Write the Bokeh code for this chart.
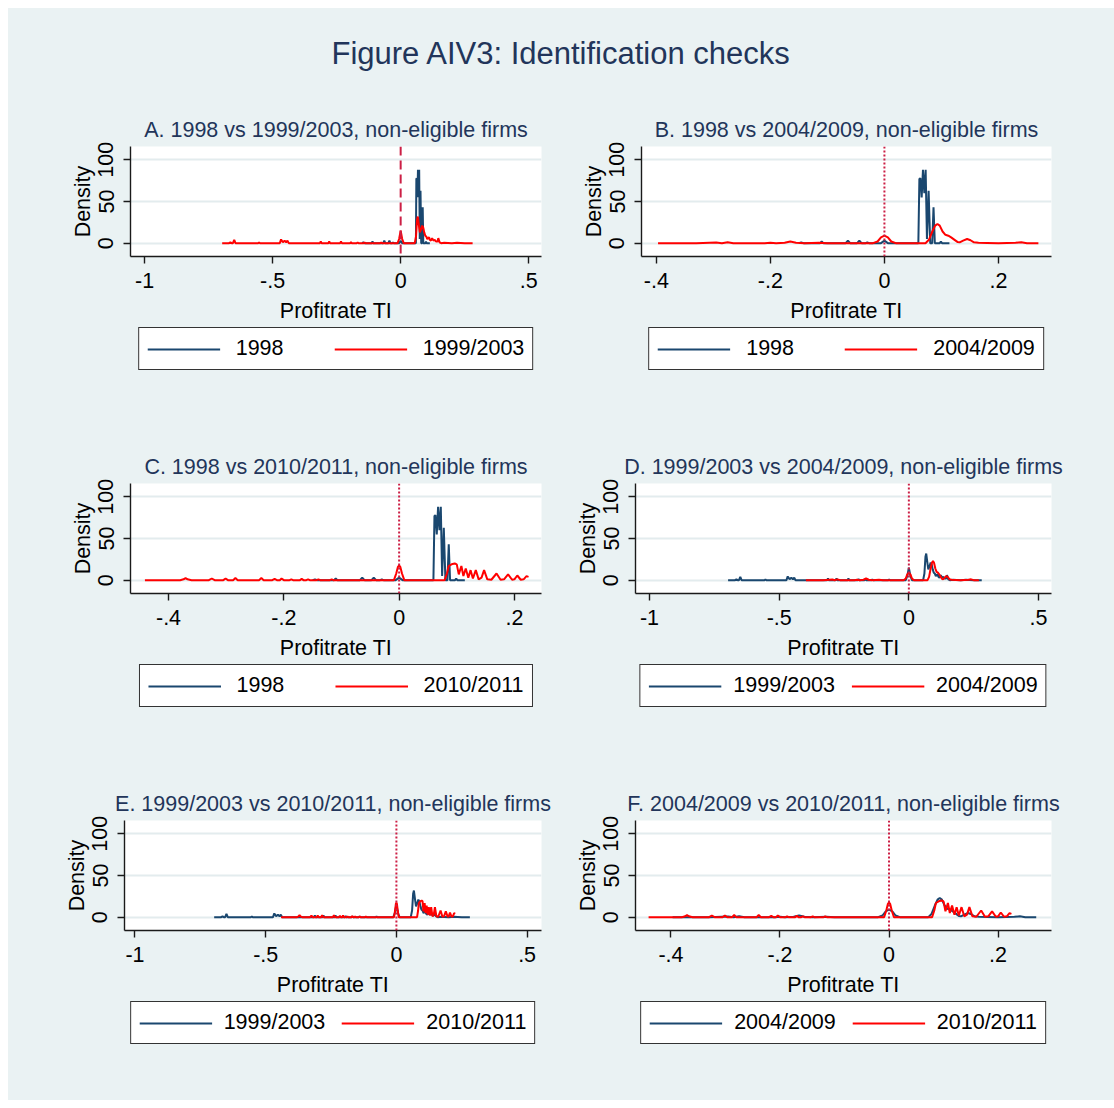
from bokeh.plotting import figure
from bokeh.layouts import column, row
from bokeh.models import (Range1d, FixedTicker, Span, Legend, LegendItem)
from bokeh.core.properties import value
from bokeh.embed import file_html
from bokeh.resources import INLINE

# ---------------- data ----------------
main_title = "Figure AIV3: Identification checks"
x_label = "Profitrate TI"
y_label = "Density"

# Kernel density curves: (profit rate, density)
s1998 = [(-0.150, 0), (-0.146, 1), (-0.142, 0), (-0.113, 0), (-0.110, 2), (-0.107, 0),
         (-0.068, 0), (-0.064, 3), (-0.060, 0), (-0.048, 0), (-0.044, 3), (-0.040, 0),
         (-0.033, 0), (-0.030, 1), (-0.027, 0), (-0.006, 0), (0.000, 3), (0.006, 0),
         (0.0595, 0), (0.0613, 77), (0.063, 78), (0.0653, 55), (0.0676, 88), (0.070, 60),
         (0.0723, 88), (0.0746, 5), (0.0775, 63), (0.0803, 0), (0.0838, 0), (0.0861, 43),
         (0.0884, 0), (0.097, 0), (0.099, 2), (0.101, 0), (0.114, 0)]

s1999_2003 = [(-0.697, 0), (-0.670, 0), (-0.665, 1), (-0.660, 0), (-0.655, 0), (-0.650, 4),
              (-0.645, 0), (-0.600, 0), (-0.556, 0), (-0.553, 1), (-0.550, 0), (-0.500, 0),
              (-0.472, 0), (-0.467, 4.5), (-0.460, 1), (-0.453, 3), (-0.447, 1), (-0.442, 3),
              (-0.437, 0), (-0.400, 0), (-0.315, 0), (-0.312, 2), (-0.309, 0), (-0.282, 0),
              (-0.279, 2), (-0.276, 0), (-0.236, 0), (-0.233, 2), (-0.230, 0), (-0.197, 0),
              (-0.194, 1.5), (-0.191, 0), (-0.171, 0), (-0.168, 1), (-0.165, 0), (-0.144, 0),
              (-0.141, 1), (-0.138, 0), (-0.079, 0), (-0.076, 1), (-0.073, 0), (-0.012, 0),
              (-0.006, 5), (0.000, 15), (0.006, 5), (0.012, 0), (0.055, 0), (0.060, 8),
              (0.064, 28), (0.067, 32), (0.071, 22), (0.075, 13), (0.079, 16), (0.084, 21),
              (0.088, 19), (0.092, 13), (0.096, 9), (0.100, 8), (0.104, 5), (0.107, 6),
              (0.111, 7), (0.114, 4), (0.118, 3), (0.123, 6), (0.128, 3), (0.133, 4),
              (0.138, 2), (0.144, 2), (0.147, 6), (0.152, 1), (0.158, 0), (0.170, 0.5),
              (0.200, 0), (0.220, 0.5), (0.250, 0), (0.281, 0)]

s2004_2009 = [(-0.397, 0), (-0.330, 0), (-0.295, 0.8), (-0.285, 0), (-0.275, 1), (-0.265, 0),
              (-0.210, 0), (-0.200, 0.6), (-0.190, 0), (-0.175, 0.5), (-0.165, 2), (-0.155, 0.5),
              (-0.140, 0), (-0.115, 0.5), (-0.100, 0), (-0.020, 0), (-0.012, 2), (-0.006, 7),
              (0.000, 9), (0.006, 7), (0.012, 2), (0.020, 0), (0.072, 0), (0.078, 4),
              (0.084, 14), (0.089, 21), (0.093, 23), (0.097, 21), (0.102, 14), (0.107, 10),
              (0.112, 9), (0.117, 7), (0.123, 4), (0.128, 1.5), (0.132, 1), (0.138, 3),
              (0.145, 5), (0.151, 3.5), (0.157, 1), (0.165, 0.5), (0.180, 0.3), (0.200, 0),
              (0.230, 0.5), (0.240, 1), (0.250, 0), (0.270, 0)]

s2010_2011 = [(-0.441, 0), (-0.380, 0), (-0.374, 1), (-0.3705, 2.5), (-0.367, 1), (-0.360, 0),
              (-0.330, 0), (-0.325, 2), (-0.320, 0), (-0.305, 0), (-0.301, 2), (-0.297, 0),
              (-0.288, 0), (-0.284, 2.5), (-0.280, 0), (-0.243, 0), (-0.239, 2.5), (-0.235, 0),
              (-0.220, 0), (-0.216, 1.5), (-0.212, 0), (-0.207, 0), (-0.204, 2), (-0.200, 0),
              (-0.190, 0), (-0.187, 1), (-0.184, 0), (-0.172, 0), (-0.169, 1.5), (-0.166, 0),
              (-0.161, 0), (-0.158, 1), (-0.155, 0), (-0.143, 0), (-0.140, 1), (-0.137, 0),
              (-0.120, 0), (-0.117, 1), (-0.114, 0), (-0.009, 0), (-0.005, 8), (-0.002, 16),
              (0.000, 17.6), (0.002, 16), (0.005, 8), (0.009, 0), (0.079, 0), (0.083, 8),
              (0.086, 17), (0.091, 19), (0.0965, 20), (0.100, 19), (0.1035, 7), (0.108, 17),
              (0.1115, 5), (0.1156, 14), (0.120, 3), (0.124, 12), (0.128, 2), (0.133, 12),
              (0.138, 1), (0.143, 3), (0.1474, 12), (0.153, 1), (0.160, 0.5), (0.169, 8),
              (0.176, 0.5), (0.182, 1), (0.189, 7), (0.196, 0.5), (0.200, 1), (0.205, 5.6),
              (0.211, 0.5), (0.216, 1), (0.221, 4.8), (0.2245, 4)]

series = {"1998": s1998, "1999/2003": s1999_2003, "2004/2009": s2004_2009, "2010/2011": s2010_2011}

y_ticks = [0, 50, 100]
y_range = (-16, 116)
ticks_wide = [-1, -0.5, 0, 0.5]
labels_wide = ["-1", "-.5", "0", ".5"]
ticks_narrow = [-0.4, -0.2, 0, 0.2]
labels_narrow = ["-.4", "-.2", "0", ".2"]
ref_line_x = 0

panels = [
    ("A. 1998 vs 1999/2003, non-eligible firms", "1998", "1999/2003", "wide", (-1.055, 0.55), "dashed"),
    ("B. 1998 vs 2004/2009, non-eligible firms", "1998", "2004/2009", "narrow", (-0.426, 0.293), "dotted"),
    ("C. 1998 vs 2010/2011, non-eligible firms", "1998", "2010/2011", "narrow", (-0.466, 0.247), "dotted"),
    ("D. 1999/2003 vs 2004/2009, non-eligible firms", "1999/2003", "2004/2009", "wide", (-1.054, 0.55), "dotted"),
    ("E. 1999/2003 vs 2010/2011, non-eligible firms", "1999/2003", "2010/2011", "wide", (-1.04, 0.555), "dotted"),
    ("F. 2004/2009 vs 2010/2011, non-eligible firms", "2004/2009", "2010/2011", "narrow", (-0.465, 0.298), "dotted"),
]

# ---------------- styling ----------------
BG = "#EAF2F3"
NAVY = "#1A476F"
RED = "#FF0000"
TITLE_C = "#22355A"
REFLINE_C = "#CC1F45"
FONT = "Liberation Sans"
FS = "21.5px"

# per-panel frame geometry (left border, frame width, right border, legend strip height)
geom = [(122, 411, 20, 108), (80, 410, 63, 108),
        (122, 411, 20, 108), (74, 416, 63, 108),
        (116, 417, 20, 99), (74, 416, 63, 99)]
TOP = 48
FRAME_H = 110
BOTTOM = 71


def make_panel(spec, g):
    title, na, nb, kind, xr, dash = spec
    left, fw, right, leg_h = g
    p = figure(frame_width=fw, frame_height=FRAME_H, output_backend="svg", toolbar_location=None,
               x_range=Range1d(*xr), y_range=Range1d(*y_range),
               min_border_left=left, min_border_right=right, min_border_top=TOP,
               min_border_bottom=BOTTOM)
    p.background_fill_color = "white"
    p.border_fill_color = BG
    p.outline_line_color = None

    p.title.text = title
    p.title.align = "center"
    p.title.text_font = FONT
    p.title.text_font_size = FS
    p.title.text_font_style = "normal"
    p.title.text_color = TITLE_C
    p.title.standoff = 9

    sa = series[na]
    sb = series[nb]
    xa, ya = [v[0] for v in sa], [v[1] for v in sa]
    xb, yb = [v[0] for v in sb], [v[1] for v in sb]
    p.line(xa, ya, line_color=NAVY, line_width=2)
    p.line(xb, yb, line_color=RED, line_width=2)

    p.add_layout(Span(location=ref_line_x, dimension="height", line_color=REFLINE_C,
                      line_width=2, line_dash=("9 5" if dash == "dashed" else "2 2")))

    ticks = ticks_wide if kind == "wide" else ticks_narrow
    labels = labels_wide if kind == "wide" else labels_narrow
    p.xaxis.ticker = FixedTicker(ticks=ticks)
    p.xaxis.major_label_overrides = {t: l for t, l in zip(ticks, labels)}
    p.yaxis.ticker = FixedTicker(ticks=y_ticks)
    p.yaxis.major_label_orientation = "vertical"

    for ax in (p.xaxis[0], p.yaxis[0]):
        ax.axis_line_color = "#1a1a1a"
        ax.axis_line_width = 1.4
        ax.major_tick_line_color = "#1a1a1a"
        ax.major_tick_line_width = 1.4
        ax.major_tick_in = 0
        ax.major_tick_out = 7
        ax.minor_tick_line_color = None
        ax.major_label_text_font = FONT
        ax.major_label_text_font_size = FS
        ax.major_label_text_color = "black"
        ax.axis_label_text_font = FONT
        ax.axis_label_text_font_size = FS
        ax.axis_label_text_font_style = "normal"
        ax.axis_label_text_color = "black"
    p.xaxis.axis_label = x_label
    p.xaxis.major_label_standoff = 9
    p.xaxis.axis_label_standoff = 8
    p.yaxis.axis_label = y_label
    p.yaxis.major_label_standoff = 10
    p.yaxis.axis_label_standoff = 1

    p.xgrid.grid_line_color = None
    p.ygrid.grid_line_color = "#E3ECEE"
    p.ygrid.grid_line_width = 2

    # legend strip below the plot (same frame alignment); its key lines sit outside its y range
    lf = figure(frame_width=fw, frame_height=leg_h, output_backend="svg", toolbar_location=None,
                x_range=Range1d(0, 1), y_range=Range1d(-20, -10),
                min_border_left=left, min_border_right=right, min_border_top=0, min_border_bottom=0)
    lf.axis.visible = False
    lf.grid.visible = False
    lf.outline_line_color = None
    lf.background_fill_color = BG
    lf.border_fill_color = BG
    ka = lf.line(xa, ya, line_color=NAVY, line_width=2)
    kb = lf.line(xb, yb, line_color=RED, line_width=2)
    leg = Legend(items=[LegendItem(label=na, renderers=[ka]), LegendItem(label=nb, renderers=[kb])],
                 orientation="horizontal", location="top_center")
    leg.label_text_font = FONT
    leg.label_text_font_size = FS
    leg.label_text_color = "black"
    leg.glyph_width = 73
    leg.glyph_height = 22
    if na == "1998":
        leg.label_standoff = 16
        leg.label_width = 80
        leg.spacing = 18
    else:
        leg.label_standoff = 12
        leg.label_width = 20
        leg.spacing = 16
    leg.padding = 8
    leg.margin = 0
    leg.border_line_color = "#333333"
    leg.border_line_width = 1.5
    leg.border_line_alpha = 1
    leg.background_fill_color = "white"
    leg.background_fill_alpha = 1
    lf.add_layout(leg)
    return column(p, lf, spacing=0)


cells = [make_panel(s, g) for s, g in zip(panels, geom)]

# main title strip
t = figure(frame_width=1106, frame_height=90, output_backend="svg", toolbar_location=None,
           x_range=Range1d(0, 1), y_range=Range1d(0, 1), min_border=0)
t.axis.visible = False
t.grid.visible = False
t.outline_line_color = None
t.background_fill_color = BG
t.border_fill_color = BG
t.text(x=[0.5], y=[0.5], text=[main_title], text_font=value(FONT), text_font_size="31px",
       text_align="center", text_baseline="middle", text_color=TITLE_C)

layout = column(t, row(cells[0], cells[1], spacing=0), row(cells[2], cells[3], spacing=0),
                row(cells[4], cells[5], spacing=0), spacing=0,
                margin=(8, 0, 0, 8), styles={"background-color": BG})

open("out.html", "w").write(file_html(layout, INLINE))
